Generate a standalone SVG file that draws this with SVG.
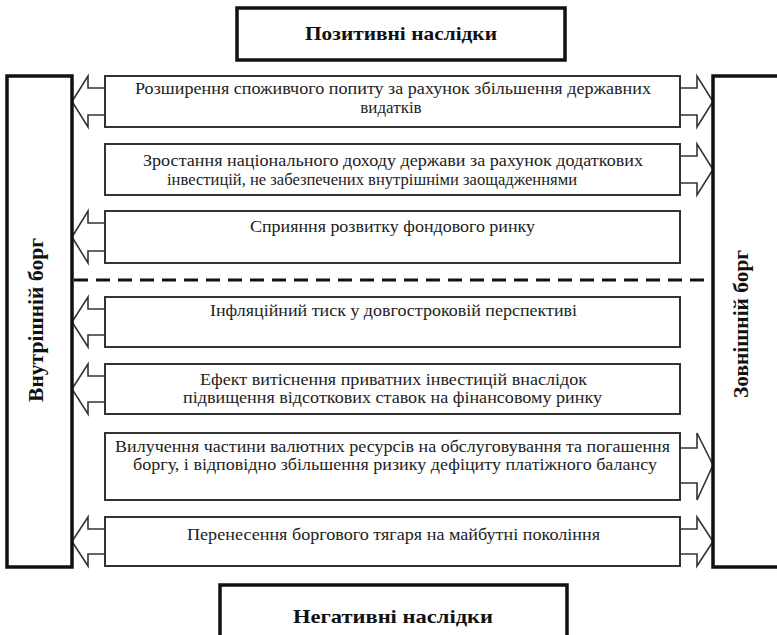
<svg xmlns="http://www.w3.org/2000/svg" width="777" height="635" viewBox="0 0 777 635">
<style>
.hdr{fill:#fff;stroke:#111;stroke-width:3.5}
.item{fill:#fff;stroke:#333;stroke-width:2}
.arr{fill:#fff;stroke:#333;stroke-width:1.6;stroke-linejoin:miter}
.sep{stroke:#111;stroke-width:3;stroke-dasharray:14 8;fill:none}
text{font-family:'Liberation Serif','Times New Roman','DejaVu Serif',serif}
.t{font-size:17px;fill:#222;text-anchor:middle}
.tb{font-size:19px;font-weight:bold;fill:#111;text-anchor:middle}
.tv{font-size:20px}
</style>
<rect width="777" height="635" fill="#fff"/>
<g id="connectors">
<polygon class="arr" points="105,88 88,88 88,76 72,101.5 88,127 88,115 105,115"/>
<polygon class="arr" points="105,223 88,223 88,211 72,237 88,263 88,251 105,251"/>
<polygon class="arr" points="105,309 88,309 88,297 72,322 88,347 88,335 105,335"/>
<polygon class="arr" points="105,376 88,376 88,364 72,389 88,414 88,402 105,402"/>
<polygon class="arr" points="105,529 88,529 88,517 72,541.5 88,566 88,554 105,554"/>
<polygon class="arr" points="680,88 697,88 697,76 713,101.5 697,127 697,115 680,115"/>
<polygon class="arr" points="680,156 697,156 697,144 713,169.5 697,195 697,183 680,183"/>
<polygon class="arr" points="680,448 697,448 697,433 713,465 697,500 697,483 680,483"/>
<polygon class="arr" points="680,529 697,529 697,517 713,541.5 697,566 697,554 680,554"/>
</g>
<g id="separator">
<line class="sep" x1="74" y1="280" x2="711" y2="280"/>
</g>
<g id="positive">
<rect class="hdr" x="237" y="8" width="328" height="52"/>
<text class="tb" x="401" y="40" textLength="192" lengthAdjust="spacingAndGlyphs">Позитивні наслідки</text>
</g>
<g id="negative">
<rect class="hdr" x="220" y="585" width="347" height="60"/>
<text class="tb" x="393" y="623" textLength="200" lengthAdjust="spacingAndGlyphs">Негативні наслідки</text>
</g>
<g id="internal">
<rect class="hdr" x="7" y="76" width="65" height="491"/>
<text class="tb tv" transform="translate(43,320) rotate(-90)" textLength="164" lengthAdjust="spacingAndGlyphs">Внутрішній борг</text>
</g>
<g id="external">
<rect class="hdr" x="713" y="76" width="80" height="491"/>
<text class="tb tv" transform="translate(748,324) rotate(-90)" textLength="148" lengthAdjust="spacingAndGlyphs">Зовнішній борг</text>
</g>
<g id="item1">
<rect class="item" x="105" y="76" width="575" height="51"/>
<text class="t" x="393" y="94" textLength="516" lengthAdjust="spacingAndGlyphs">Розширення споживчого попиту за рахунок збільшення державних</text>
<text class="t" x="391" y="113">видатків</text>
</g>
<g id="item2">
<rect class="item" x="105" y="144" width="575" height="51"/>
<text class="t" x="393" y="166" textLength="500" lengthAdjust="spacingAndGlyphs">Зростання національного доходу держави за рахунок додаткових</text>
<text class="t" x="372" y="185" textLength="410" lengthAdjust="spacingAndGlyphs">інвестицій, не забезпечених внутрішніми заощадженнями</text>
</g>
<g id="item3">
<rect class="item" x="105" y="211" width="575" height="52"/>
<text class="t" x="392.5" y="232" textLength="285" lengthAdjust="spacingAndGlyphs">Сприяння розвитку фондового ринку</text>
</g>
<g id="item4">
<rect class="item" x="105" y="297" width="575" height="50"/>
<text class="t" x="393.5" y="316" textLength="367" lengthAdjust="spacingAndGlyphs">Інфляційний тиск у довгостроковій перспективі</text>
</g>
<g id="item5">
<rect class="item" x="105" y="364" width="575" height="50"/>
<text class="t" x="393.5" y="385" textLength="387" lengthAdjust="spacingAndGlyphs">Ефект витіснення приватних інвестицій внаслідок</text>
<text class="t" x="392.5" y="403" textLength="419" lengthAdjust="spacingAndGlyphs">підвищення відсоткових ставок на фінансовому ринку</text>
</g>
<g id="item6">
<rect class="item" x="105" y="433" width="575" height="67"/>
<text class="t" x="392.5" y="452" textLength="555" lengthAdjust="spacingAndGlyphs">Вилучення частини валютних ресурсів на обслуговування та погашення</text>
<text class="t" x="395" y="470" textLength="524" lengthAdjust="spacingAndGlyphs">боргу, і відповідно збільшення ризику дефіциту платіжного балансу</text>
</g>
<g id="item7">
<rect class="item" x="105" y="517" width="575" height="49"/>
<text class="t" x="393.5" y="540" textLength="413" lengthAdjust="spacingAndGlyphs">Перенесення боргового тягаря на майбутні покоління</text>
</g>
</svg>
